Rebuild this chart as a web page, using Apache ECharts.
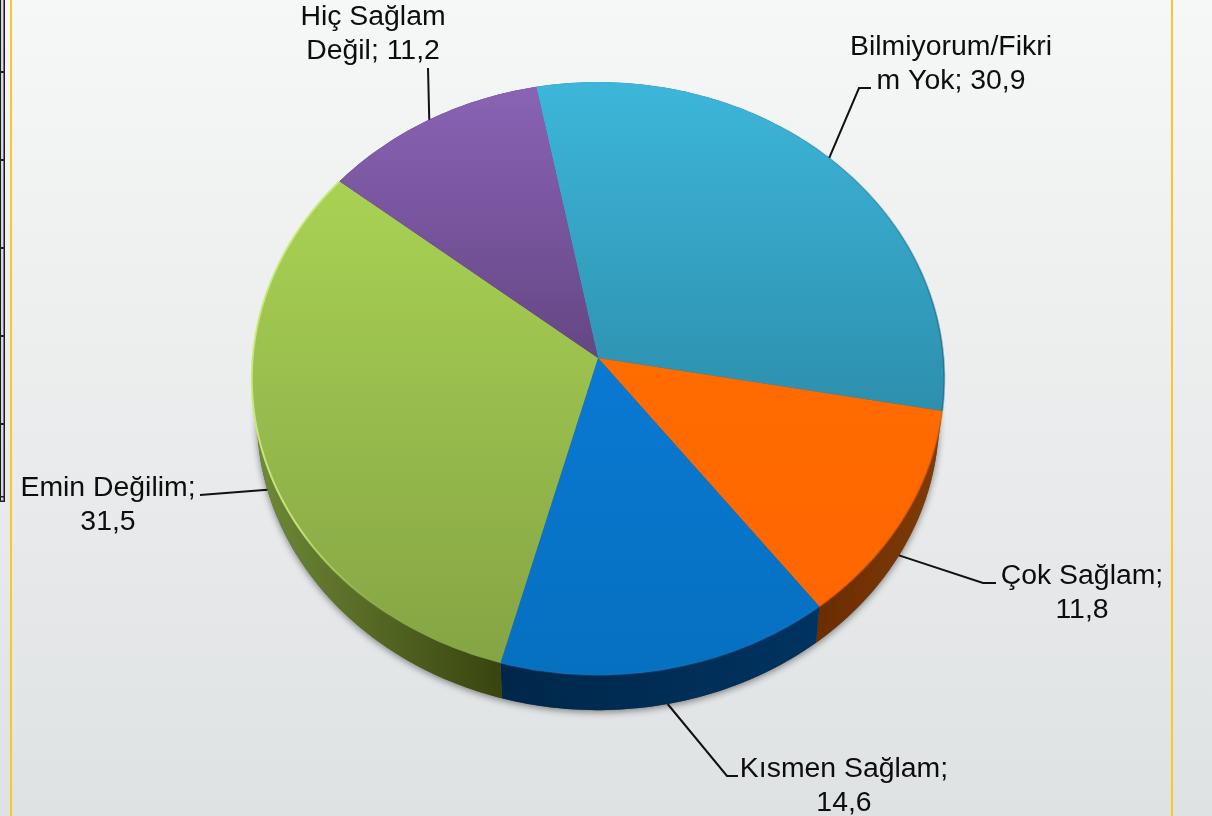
<!DOCTYPE html>
<html><head><meta charset="utf-8">
<style>html,body{margin:0;padding:0;width:1212px;height:816px;overflow:hidden}#c{width:1212px;height:816px}</style>
<script src="https://cdn.jsdelivr.net/npm/echarts@6/dist/echarts.min.js"></script>
</head><body><div id="c"></div>
<script>
// Data
const categories = ['Bilmiyorum/Fikrim Yok','Çok Sağlam','Kısmen Sağlam','Emin Değilim','Hiç Sağlam Değil'];
const values = [30.9,11.8,14.6,31.5,11.2];
const labelBreaks = [16,11,14,13,10];

// Styles
const topColors = [['#3db6da','#2d8fad'],['#ff6c00','#ff6600'],['#0a79d2','#0670c0'],['#a9d254','#85a444'],['#8a63b5','#654684']];
const sideColors = [['#2a7f9c','#1f6a84'],['#6a2c00','#803c08'],['#00274a','#003360'],['#6f8b38','#39440f'],['#4b3466','#4b3466']];
const rimColors = [['rgba(30,110,140,0)','rgba(20,90,120,0.45)','rgba(20,90,120,0.45)'],['rgba(230,90,0,0.5)','rgba(230,90,0,0.5)','rgba(230,90,0,0.5)'],['rgba(30,120,200,0.3)','rgba(30,120,200,0.3)','rgba(30,120,200,0.3)'],['rgba(205,235,125,0.9)','rgba(205,235,125,0.9)','rgba(205,235,125,0)'],['rgba(160,125,205,0)','rgba(160,125,205,0)','rgba(160,125,205,0)']];
// Perspective disc geometry
const G = {cx:598,cy:358,k:345.4,m:295,p:0.0691,start:-11,depth:40,shrink:0.985};
// Label layout: [text centre x, text centre y, elbow x, elbow y, end x, end y]
const labelLayout = [
  [951,64,859,88,871,88],
  [1082,593,983,583,996,583],
  [844,786,727,776,738,776],
  [108,505,200,495,200,495],
  [373,34,428,68,428,68]
];

const total = values.reduce((a,b)=>a+b,0);
const cum = values.reduce((acc,v)=>{acc.push(acc[acc.length-1]+v);return acc;},[0]);
const ang = v => G.start + v/total*360;
function proj(deg, lower){
  const r = deg*Math.PI/180, u=Math.sin(r), v=Math.cos(r), w=1+G.p*v;
  const s = lower?G.shrink:1;
  return [G.cx+s*G.k*u/w, G.cy-s*G.m*v/w+(lower?G.depth:0)];
}
function arc(a0,a1,lower){
  const n=Math.max(2,Math.ceil(Math.abs(a1-a0))), pts=[];
  for(let i=0;i<=n;i++) pts.push(proj(a0+(a1-a0)*i/n,lower));
  return pts;
}
const grad=(c,h)=>({type:'linear',x:0,y:0,x2:h?1:0,y2:h?0:1,colorStops:c.length===3
  ?[{offset:0,color:c[0]},{offset:0.72,color:c[1]},{offset:0.92,color:c[2]}]
  :[{offset:0,color:c[0]},{offset:1,color:c[1]}]});

function silhouette(){
  return {type:'group',children:[
    {type:'polygon',shape:{points:arc(0,360,true)},style:{fill:'#555',shadowBlur:7,shadowColor:'rgba(0,0,0,0.45)',shadowOffsetY:2}}
  ]};
}
function side(params){
  const i=params.dataIndex,a0=ang(cum[i]),a1=ang(cum[i+1]);
  const pts=arc(a0,a1,false).concat(arc(a1,a0,true));
  return {type:'polygon',shape:{points:pts},style:{fill:grad(sideColors[i],true)}};
}
function face(params){
  const i=params.dataIndex,a0=ang(cum[i]),a1=ang(cum[i+1]);
  const rim=arc(a0,a1,false);
  return {type:'group',children:[
    {type:'polygon',shape:{points:[[G.cx,G.cy]].concat(rim)},style:{fill:grad(topColors[i],false)}},
    {type:'polyline',shape:{points:rim},style:{fill:null,stroke:grad(rimColors[i],false),lineWidth:2}}
  ]};
}
function label(params){
  const i=params.dataIndex, mid=ang((cum[i]+cum[i+1])/2);
  const L=labelLayout[i];
  const r=mid*Math.PI/180, front=Math.cos(r)<-0.05;
  const start=proj(mid,front);
  const full=categories[i]+'; '+String(values[i]).replace('.',',');
  const text=full.slice(0,labelBreaks[i]).trim()+'\n'+full.slice(labelBreaks[i]).trim();
  return {type:'group',children:[
    {type:'polyline',shape:{points:[start,[L[2],L[3]],[L[4],L[5]]]},style:{fill:null,stroke:'#111',lineWidth:2}},
    {type:'text',style:{text:text,x:L[0],y:L[1],align:'center',verticalAlign:'middle',
      font:'28.4px "Liberation Sans", Arial, sans-serif',lineHeight:33.5,fill:'#0d0d0d'}}
  ]};
}
const pieData=categories.map((n,i)=>({name:n,value:values[i]}));
const chart=echarts.init(document.getElementById('c'),null,{renderer:'canvas'});
const ticks=[];
[72,160,248,336,424].forEach(y=>ticks.push({type:'rect',shape:{x:0,y:y-1,width:5,height:2},style:{fill:'#222'},silent:true}));
chart.setOption({
  animation:false,
  backgroundColor:{type:'linear',x:0,y:0,x2:0,y2:1,colorStops:[{offset:0,color:'#f6f7f7'},{offset:1,color:'#dfe2e3'}]},
  tooltip:{show:false},
  graphic:{elements:[
    {type:'rect',shape:{x:0,y:0,width:5,height:502},style:{fill:'#d4d8da'},silent:true},
    {type:'rect',shape:{x:0,y:0,width:1,height:502},style:{fill:'#1a1a1a'},silent:true},
    {type:'rect',shape:{x:3.5,y:0,width:1.5,height:502},style:{fill:'#1a1a1a'},silent:true},
    {type:'rect',shape:{x:0,y:496,width:5,height:1.5},style:{fill:'#222'},silent:true},
    {type:'rect',shape:{x:0,y:500.5,width:5,height:1.5},style:{fill:'#222'},silent:true},
    ...ticks,
    {type:'rect',shape:{x:10,y:0,width:2,height:816},style:{fill:'#fdc52a'},silent:true},
    {type:'rect',shape:{x:1171,y:0,width:2,height:816},style:{fill:'#fdc52a'},silent:true}
  ]},
  series:[
    {type:'custom',name:'base',coordinateSystem:'none',silent:true,z:1,data:[total],renderItem:silhouette},
    {type:'custom',name:'sides',coordinateSystem:'none',silent:true,z:2,data:pieData,renderItem:side},
    {type:'custom',name:'faces',coordinateSystem:'none',silent:true,z:3,data:pieData,renderItem:face},
    {type:'custom',name:'labels',coordinateSystem:'none',silent:true,z:4,data:pieData,renderItem:label}
  ]
});
</script></body></html>
